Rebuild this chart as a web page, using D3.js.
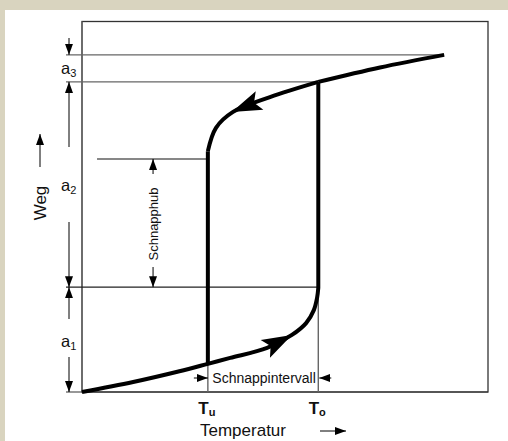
<!DOCTYPE html>
<html>
<head>
    <meta charset="utf-8">
    <script src="https://d3js.org/d3.v7.min.js"></script>
    <style>
        body { margin: 0px; background: #ffffff; }
        svg text { font-family: "Liberation Sans", Arial, sans-serif; fill: #111; }
    </style>
</head>
<body>
    <svg width="508" height="441"></svg>
    <script>
        // Curve points in (temperature, travel) units, 0..100 on both axes
        const heatBranch = [[0, 0], [12.6, 2.7], [24.0, 5.6], [31.0, 7.6], [36.5, 9.2], [45.6, 11.9], [51.7, 15.4], [55.2, 18.6], [57.1, 22.1], [57.9, 25.4], [58.2, 28.1]];
        const snapUp = [[58.2, 28.1], [58.2, 83.7]];
        const topBranch = [[58.2, 83.7], [73.4, 87.6], [89.2, 91.0]];
        const coolBranch = [[58.2, 83.7], [46.3, 79.6], [37.2, 75.6], [33.0, 71.3], [31.0, 65.0]];
        const snapDown = [[31.0, 65.0], [31.0, 7.6]];

        // arrows on the curve: tip and a point behind it
        const curveArrows = [
            { tip: [51.7, 15.4], from: [45.6, 11.9] },
            { tip: [36.9, 75.6], from: [43.1, 78.4] }
        ];

        const tLow = 31.0;      // T_u
        const tHigh = 58.2;     // T_o
        const levels = [0, 28.3, 83.7, 91.0];      // a1 / a2 / a3 boundaries
        const levelEnds = [null, tHigh, tHigh, 89.2];
        const dimLabels = ['1', '2', '3'];
        const hubTop = 62.9;
        const hubX = 17.5;
        const tickLabels = [{ v: tLow, sub: 'u' }, { v: tHigh, sub: 'o' }];

        const svg = d3.select('svg');
        const x = d3.scaleLinear().domain([0, 100]).range([82, 488]);
        const y = d3.scaleLinear().domain([0, 100]).range([392, 21.5]);

        // beige frame
        svg.append('rect').attr('x', 0).attr('y', 0).attr('width', 508).attr('height', 441).attr('fill', '#d9d4bf');
        svg.append('rect').attr('x', 5).attr('y', 10).attr('width', 503).attr('height', 431).attr('fill', '#ffffff');

        const defs = svg.append('defs');
        defs.append('marker')
            .attr('id', 'ah')
            .attr('viewBox', '0 0 11 10')
            .attr('refX', 11).attr('refY', 5)
            .attr('markerWidth', 11).attr('markerHeight', 10)
            .attr('markerUnits', 'userSpaceOnUse')
            .attr('orient', 'auto')
            .append('path').attr('d', 'M0,1 L11,5 L0,9 Z').attr('fill', '#000');

        const g = svg.append('g');

        // plot frame
        g.append('rect')
            .attr('x', x(0)).attr('y', y(100))
            .attr('width', x(100) - x(0)).attr('height', y(0) - y(100))
            .attr('fill', 'none').attr('stroke', '#333').attr('stroke-width', 1.3);
        g.append('line').attr('x1', x(0)).attr('x2', x(0)).attr('y1', y(100)).attr('y2', y(0))
            .attr('stroke', '#666').attr('stroke-width', 1.3);

        // horizontal level lines
        const dimX = x(0) - 13;
        levels.forEach((lv, i) => {
            g.append('line')
                .attr('x1', dimX - 3).attr('x2', levelEnds[i] === null ? x(100) : x(levelEnds[i]))
                .attr('y1', y(lv)).attr('y2', y(lv))
                .attr('stroke', i === 0 ? '#333' : (i === 1 ? '#222' : '#666'))
                .attr('stroke-width', 1.2);
        });
        // Schnapphub top line
        g.append('line').attr('x1', x(3.7)).attr('x2', x(tLow)).attr('y1', y(hubTop)).attr('y2', y(hubTop))
            .attr('stroke', '#111').attr('stroke-width', 1.1);

        // T_u / T_o verticals
        g.append('line').attr('x1', x(tLow)).attr('x2', x(tLow)).attr('y1', y(0)).attr('y2', y(7.6))
            .attr('stroke', '#666').attr('stroke-width', 1.4);
        g.append('line').attr('x1', x(tHigh)).attr('x2', x(tHigh)).attr('y1', y(0)).attr('y2', y(28.3))
            .attr('stroke', '#666').attr('stroke-width', 1.4);

        // dimension arrows a1..a3 on the left
        function arrow(x1, y1, x2, y2) {
            g.append('line')
                .attr('x1', x1).attr('y1', y1).attr('x2', x2).attr('y2', y2)
                .attr('stroke', '#000').attr('stroke-width', 1)
                .attr('marker-end', 'url(#ah)');
        }
        arrow(dimX, 38, dimX, y(91.0));
        arrow(dimX, 147, dimX, y(83.7));
        arrow(dimX, 222, dimX, y(28.3));
        arrow(dimX, 319, dimX, y(28.3));
        arrow(dimX, 357, dimX, y(0));

        const dimCentres = [342, 186, 69];
        dimLabels.forEach((s, i) => {
            const t = g.append('text').attr('x', dimX - 8).attr('y', dimCentres[i] + 5)
                .style('font-size', '16.5px');
            t.append('tspan').text('a');
            t.append('tspan').attr('dy', 3).style('font-size', '11px').text(s);
        });

        // Schnapphub
        const hx = x(hubX);
        arrow(hx, 174, hx, y(hubTop));
        arrow(hx, 267, hx, y(28.3));
        g.append('text')
            .attr('transform', `translate(${hx + 4.5},${224}) rotate(-90)`)
            .attr('text-anchor', 'middle')
            .style('font-size', '13px')
            .text('Schnapphub');

        // Schnappintervall
        const iy = 378;
        arrow(x(tLow) - 14, iy, x(tLow), iy);
        arrow(x(tHigh) + 13, iy, x(tHigh) + 1, iy);
        g.append('text')
            .attr('x', (x(tLow) + x(tHigh)) / 2 + 1).attr('y', iy + 5)
            .attr('text-anchor', 'middle')
            .style('font-size', '14px')
            .text('Schnappintervall');

        // hysteresis curve
        const smooth = d3.line().x(d => x(d[0])).y(d => y(d[1])).curve(d3.curveCatmullRom.alpha(0.5));
        const straight = d3.line().x(d => x(d[0])).y(d => y(d[1]));
        [[heatBranch, smooth], [snapUp, straight], [topBranch, smooth], [coolBranch, smooth], [snapDown, straight]]
            .forEach(([pts, gen]) => {
                g.append('path')
                    .datum(pts)
                    .attr('d', gen)
                    .attr('fill', 'none')
                    .attr('stroke', '#000')
                    .attr('stroke-width', 4)
                    .attr('stroke-linejoin', 'round');
            });

        // big arrowheads on the curve
        curveArrows.forEach(a => {
            const tx = x(a.tip[0]), ty = y(a.tip[1]);
            const ang = Math.atan2(ty - y(a.from[1]), tx - x(a.from[0])) * 180 / Math.PI;
            g.append('path')
                .attr('transform', `translate(${tx},${ty}) rotate(${ang})`)
                .attr('d', 'M0,0 L-30,-10 L-24,0 L-30,10 Z')
                .attr('fill', '#000');
        });

        // T_u / T_o labels
        tickLabels.forEach(d => {
            const t = g.append('text').attr('x', x(d.v) - 1).attr('y', 414)
                .attr('text-anchor', 'middle')
                .style('font-size', '17px').style('font-weight', 'bold');
            t.append('tspan').text('T');
            t.append('tspan').attr('dy', 2).style('font-size', '11px').text(d.sub);
        });

        // axis titles
        g.append('text').attr('x', 243).attr('y', 436)
            .attr('text-anchor', 'middle').style('font-size', '17px').text('Temperatur');
        g.append('line').attr('x1', 320).attr('x2', 346).attr('y1', 431).attr('y2', 431)
            .attr('stroke', '#000').attr('stroke-width', 1).attr('marker-end', 'url(#ah)');

        g.append('text')
            .attr('transform', 'translate(46,203) rotate(-90)')
            .attr('text-anchor', 'middle').style('font-size', '17px').text('Weg');
        g.append('line').attr('x1', 40).attr('x2', 40).attr('y1', 167).attr('y2', 134)
            .attr('stroke', '#000').attr('stroke-width', 1).attr('marker-end', 'url(#ah)');
    </script>
</body>
</html>
